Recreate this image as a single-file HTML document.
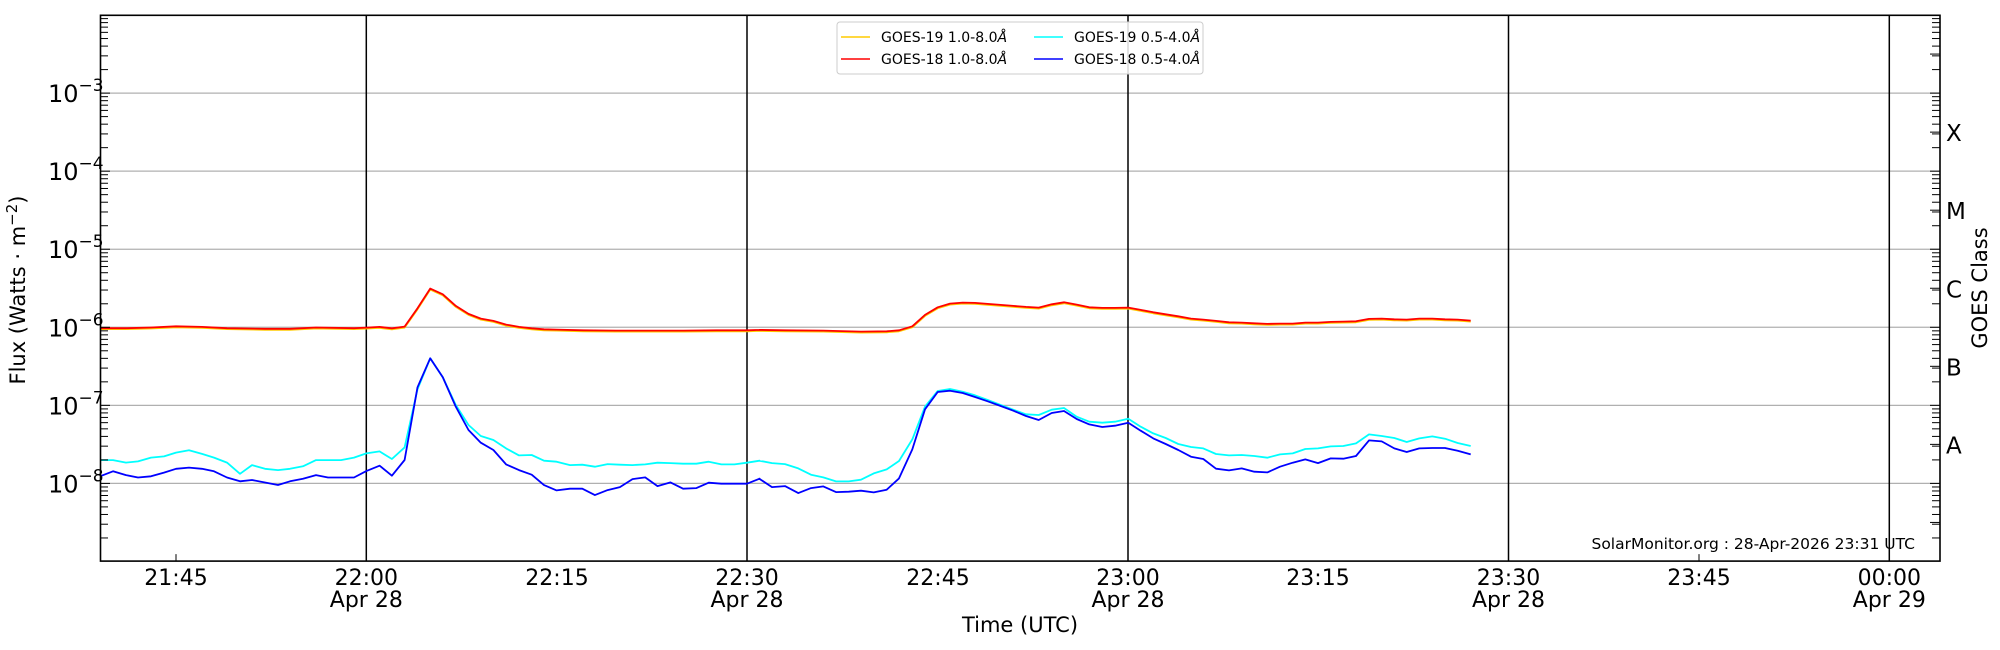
<!DOCTYPE html>
<html><head><meta charset="utf-8"><style>
html,body{margin:0;padding:0;background:#fff;}
svg{display:block;font-family:"DejaVu Sans","Liberation Sans",sans-serif;}
</style></head><body>
<svg id="s" width="2000" height="650" viewBox="0 0 2000 650" xmlns="http://www.w3.org/2000/svg">
<rect width="2000" height="650" fill="#fff"/>
<g id="grid"></g>
<g id="data" fill="none" stroke-width="1.8" stroke-linejoin="round"></g>
<rect x="100.5" y="15.3" width="1839.5" height="545.8" fill="none" stroke="#000" stroke-width="1.6"/>
<g id="ticks" stroke="#000" stroke-width="1"></g>
<g id="labels" font-size="21" fill="#000"></g>
<text x="25" y="290" font-size="21" text-anchor="middle" transform="rotate(-90 25 290)">Flux (Watts · m<tspan dy="-8" font-size="15">−2</tspan><tspan dy="8">)</tspan></text>
<text x="1987" y="288" font-size="21" text-anchor="middle" transform="rotate(-90 1987 288)">GOES Class</text>
<text x="1020" y="632" font-size="21" text-anchor="middle">Time (UTC)</text>
<text x="1915" y="549" font-size="15.5" text-anchor="end">SolarMonitor.org : 28-Apr-2026 23:31 UTC</text>
<g>
<rect x="837" y="22" width="366" height="52" rx="3" fill="#fff" fill-opacity="0.85" stroke="#ccc" stroke-width="1"/>
<line x1="841" y1="37" x2="870" y2="37" stroke="#ffcc00" stroke-width="1.5"/>
<line x1="841" y1="59" x2="870" y2="59" stroke="#ff0000" stroke-width="1.5"/>
<line x1="1034" y1="37" x2="1063" y2="37" stroke="#00ffff" stroke-width="1.5"/>
<line x1="1034" y1="59" x2="1063" y2="59" stroke="#0000ff" stroke-width="1.5"/>
<g font-size="14" fill="#000">
<text x="881" y="42">GOES-19 1.0-8.0<tspan font-style="italic">Å</tspan></text>
<text x="881" y="64">GOES-18 1.0-8.0<tspan font-style="italic">Å</tspan></text>
<text x="1074" y="42">GOES-19 0.5-4.0<tspan font-style="italic">Å</tspan></text>
<text x="1074" y="64">GOES-18 0.5-4.0<tspan font-style="italic">Å</tspan></text>
</g>
</g>
</svg>
<script>
const NS="http://www.w3.org/2000/svg";
function el(p,t,a,txt){const e=document.createElementNS(NS,t);for(const k in a)e.setAttribute(k,a[k]);if(txt!==undefined)e.textContent=txt;p.appendChild(e);return e;}
const grid=document.getElementById('grid'),ticks=document.getElementById('ticks'),lab=document.getElementById('labels'),data=document.getElementById('data');
const D=78.06, B8=483.4;
const Y=l=>B8-(l+8)*D;
const F=y=>B8+(y-388.7)*D/62.7;
const TOP=15.3,BOT=561.1;
for(let e=-8;e<=-3;e++){el(grid,'line',{x1:100,x2:1940,y1:Y(e),y2:Y(e),stroke:'#b0b0b0','stroke-width':1.2});
 const t=el(lab,'text',{x:48,y:Y(e)+9,'font-size':24},'10');el(t,'tspan',{dy:-11,'font-size':17},'−'+(-e));}
const vx=[366.3,747,1128,1508.5,1889.3];
vx.forEach(x=>el(grid,'line',{x1:x,x2:x,y1:TOP,y2:BOT,stroke:'#000','stroke-width':1.5}));
for(let e=-9;e<=-2;e++){for(let m=1;m<10;m++){const y=Y(e+Math.log10(m));if(y<TOP+1||y>BOT-1)continue;
 const L=m==1?10:8;el(ticks,'line',{x1:100,x2:100+L,y1:y,y2:y});el(ticks,'line',{x1:1940,x2:1940-L,y1:y,y2:y});}}
for(let e=-9;e<-2;e++){const y=Y(e+0.5);if(y>TOP&&y<BOT)el(ticks,'line',{x1:1930,x2:1940,y1:y,y2:y});}
[176,1699].forEach(x=>el(ticks,'line',{x1:x,x2:x,y1:BOT,y2:BOT-7}));
[['X',-3.5],['M',-4.5],['C',-5.5],['B',-6.5],['A',-7.5]].forEach(([c,l])=>el(lab,'text',{x:1946,y:Y(l)+9,'font-size':23},c));
const xl=[[176,'21:45',''],[366.3,'22:00','Apr 28'],[557,'22:15',''],[747,'22:30','Apr 28'],[938,'22:45',''],[1128,'23:00','Apr 28'],[1318,'23:15',''],[1508.5,'23:30','Apr 28'],[1699,'23:45',''],[1889.3,'00:00','Apr 29']];
xl.forEach(([x,a,b])=>{el(lab,'text',{x:x,y:585,'text-anchor':'middle','font-size':22},a);if(b)el(lab,'text',{x:x,y:607,'text-anchor':'middle','font-size':22},b);});
const z=(off,s,pts)=>pts.map(([px,py])=>[off+px/s,263.3+(py-262)*62.7/234]);
const blueA=[[100,383],[113,379],[126,382],[138,384],[151,383],[164,380],[176,377],[189,376],[202,377],[214,379],[227,384],[240,387],[252,386],[265,388],[278,390],[290,387],[303,385],[316,382],[328,384],[341,384],[354,384]];
const cyanA=[[100,370],[113,370],[126,372],[138,371],[151,368],[164,367],[176,364],[189,362],[202,365],[214,368],[227,372],[240,381],[252,374],[265,377],[278,378],[290,377],[303,375],[316,370],[328,370],[341,370],[354,368]];
const redA=[[100,264],[126,264],[151,263.5],[176,262.5],[202,263],[227,264],[265,264.5],[290,264.5],[316,263.5],[354,264]];
const blueB=z(366.3-48/3.005,3.005,[[48,693],[88,677],[125,707],[163,660],[202,442],[240,355],[278,412],[317,500],[355,570],[392,608],[430,630],[468,673],[507,690],[545,704],[582,735],[620,751],[660,746],[697,746],[735,765],[773,750],[810,741],[848,717],[886,712],[923,738],[962,727],[1000,746],[1040,744],[1077,728],[1115,731],[1154,731],[1192,731],[1230,716]]);
const cyanB=z(366.3-48/3.005,3.005,[[48,640],[88,634],[125,657],[163,622],[202,448],[240,355],[278,412],[317,495],[355,555],[392,588],[430,600],[468,625],[507,646],[545,645],[582,662],[620,665],[660,675],[697,674],[735,680],[773,672],[810,674],[848,675],[886,673],[923,668],[962,669],[1000,671],[1040,671],[1077,665],[1115,673],[1154,673],[1192,668],[1230,662]]);
const redB=z(366.3-48/3.005,3.005,[[48,263],[88,261],[125,265],[163,260],[202,205],[240,146],[278,163],[317,198],[355,222],[392,236],[430,243],[468,254],[507,261],[545,265],[582,268],[620,269],[700,271],[800,272],[900,272],[1000,272],[1100,271],[1192,271],[1230,270]]);
const blueC=z(750,3,[[28,716],[66,741],[105,738],[145,759],[183,744],[220,739],[258,756],[296,755],[333,752],[371,757],[410,749],[447,715],[487,628],[525,508],[563,456],[600,452],[638,459],[675,471],[713,484],[752,498],[790,512],[828,528],[866,540],[905,519],[942,513],[980,537],[1018,553],[1057,561]]);
const cyanC=z(750,3,[[28,662],[66,669],[105,672],[145,685],[183,704],[220,712],[258,724],[296,724],[333,719],[371,700],[410,688],[447,663],[487,598],[525,500],[563,453],[600,447],[638,455],[675,466],[713,480],[752,495],[790,509],[828,523],[866,525],[905,509],[942,504],[980,530],[1018,545],[1057,548]]);
const redC=z(750,3,[[28,270],[105,271],[220,272],[333,275],[410,274],[447,271],[487,259],[525,225],[563,202],[600,191],[638,188],[675,189],[713,192],[752,195],[790,198],[828,201],[866,203],[905,193],[942,187],[980,194],[1018,202],[1057,204]]);
const blueD=z(1100,3,[[45,557],[85,548],[122,572],[160,595],[197,612],[235,630],[273,650],[310,657],[348,686],[387,691],[425,685],[463,695],[502,697],[540,680],[578,668],[616,658],[654,669],[692,655],[730,656],[768,648],[807,601],[845,604],[883,625],[920,636],[958,625],[997,624],[1035,624],[1073,632],[1112,643]]);
const cyanD=z(1100,3,[[45,545],[85,536],[122,560],[160,580],[197,594],[235,612],[273,621],[310,625],[348,642],[387,646],[425,645],[463,648],[502,653],[540,643],[578,640],[616,627],[654,625],[692,619],[730,618],[768,610],[807,583],[845,588],[883,594],[920,606],[958,595],[997,589],[1035,596],[1073,609],[1112,618]]);
const redD=z(1100,3,[[45,204],[85,203],[122,210],[160,217],[197,223],[235,229],[273,236],[310,239],[348,243],[387,247],[425,248],[463,250],[502,252],[540,251],[578,251],[616,248],[654,248],[692,246],[730,245],[768,244],[807,237],[845,236],[883,238],[920,239],[958,236],[997,236],[1035,238],[1073,239],[1112,242]]);
const P=a=>a.map(p=>p[0].toFixed(1)+','+F(p[1]).toFixed(1)).join(' ');
const red=[...redA,...redB,...redC,...redD],blue=[...blueA,...blueB,...blueC,...blueD],cyan=[...cyanA,...cyanB,...cyanC,...cyanD];
el(data,'polyline',{points:P(red.map(p=>[p[0],p[1]+0.8])),stroke:'#ffcc00'});
el(data,'polyline',{points:P(red),stroke:'#ff0000'});
el(data,'polyline',{points:P(cyan),stroke:'#00ffff'});
el(data,'polyline',{points:P(blue),stroke:'#0000ff'});
</script>
</body></html>
